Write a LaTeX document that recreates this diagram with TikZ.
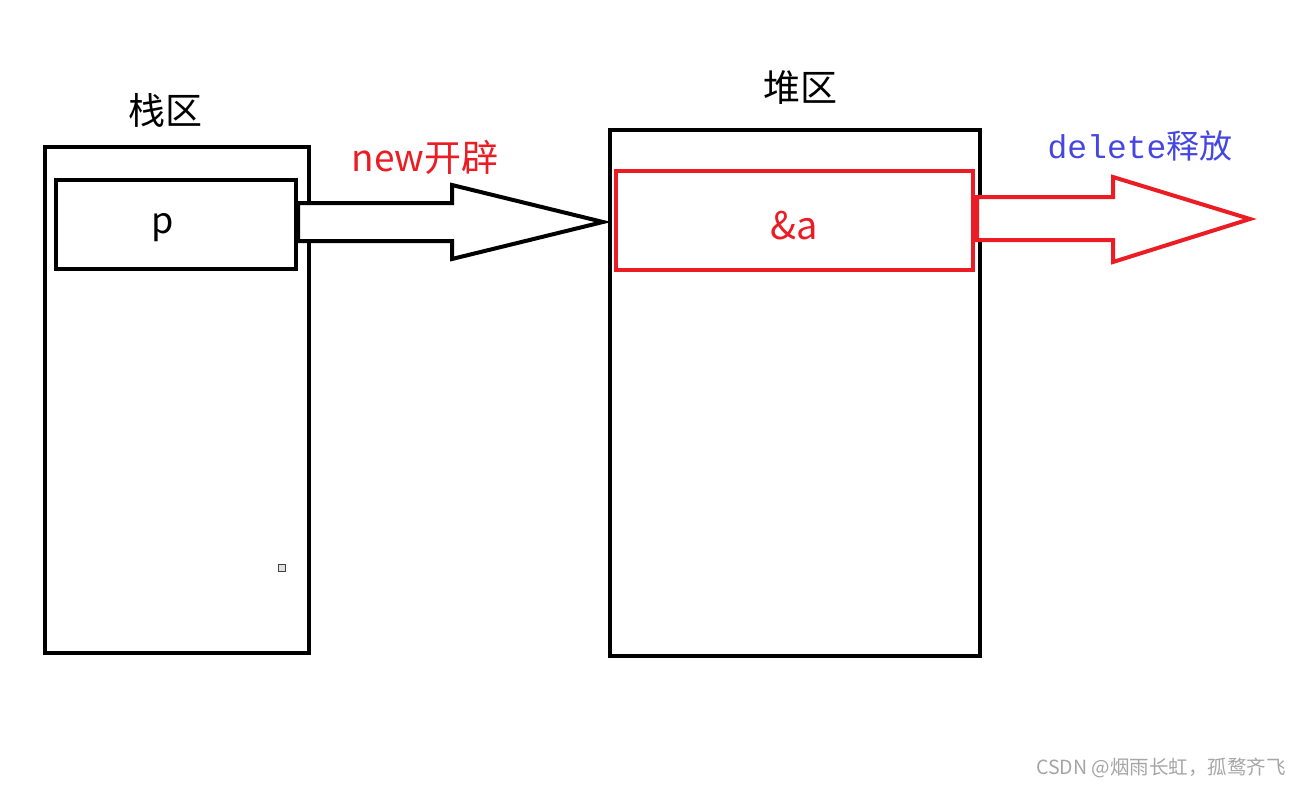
\documentclass[tikz,border=0pt]{standalone}
\usepackage{fontspec}
\newfontfamily\cjk{Noto Sans CJK SC}
\newfontfamily\monofnt{Liberation Mono}
\definecolor{pred}{RGB}{236,28,36}
\definecolor{dblue}{RGB}{70,70,225}
\definecolor{wm}{RGB}{165,165,165}
\begin{document}
\begin{tikzpicture}[x=1pt,y=-1pt,
  box/.style={draw=black,line width=4pt,rectangle,inner sep=0pt,outer sep=0pt},
  redbox/.style={draw=pred,line width=4pt,rectangle,inner sep=0pt,outer sep=0pt},
  blockarrow/.style={line width=4pt,line join=miter,fill=white},
  lbl/.style={font=\cjk\fontsize{37}{42}\selectfont,inner sep=0pt}]
\useasboundingbox (0,0) rectangle (1302,787);
% stack
\node[box,minimum width=264pt,minimum height=506pt] (stack) at (177,400) {};
\node[box,minimum width=240pt,minimum height=89pt] (pbox) at (176,224.5) {};
\node[lbl,font=\cjk\fontsize{36}{40}\selectfont] (p) at (163,228) {p};
\node[lbl] (stacklbl) at (165,110) {栈区};
\node[draw=black!75,fill=black!12,line width=1.2pt,minimum size=7pt,inner sep=0pt] (dot) at (282,568) {};
% heap
\node[box,minimum width=370pt,minimum height=526pt] (heap) at (795,393) {};
\node[redbox,minimum width=357pt,minimum height=99pt] (abox) at (794.5,220.5) {};
\node[lbl,text=pred,font=\cjk\fontsize{38}{42}\selectfont] (a) at (794,226) {\&a};
\node[lbl] (heaplbl) at (800,88) {堆区};
% new arrow
\coordinate (n0) at (298,203);
\draw[blockarrow,draw=black] (n0) -- (452,203) -- (452,185) -- (603,222) -- (452,259) -- (452,241) -- (298,241) -- cycle;
\node[lbl,text=pred] (newlbl) at (425,157) {new开辟};
% delete arrow
\draw[blockarrow,draw=pred] (977,197) -- (1113,197) -- (1113,177) -- (1250,219) -- (1113,262) -- (1113,240) -- (977,240) -- cycle;
\node[lbl,text=dblue,font=\cjk\fontsize{33}{38}\selectfont] (dellbl) at (1140,146) {{\monofnt\fontsize{33}{38}\selectfont delete}释放};
% watermark
\node[font=\cjk\fontsize{19.5}{23}\selectfont,text=wm,inner sep=0pt] (wmk) at (1161,768) {CSDN @烟雨长虹，孤鹜齐飞};
\end{tikzpicture}
\end{document}
